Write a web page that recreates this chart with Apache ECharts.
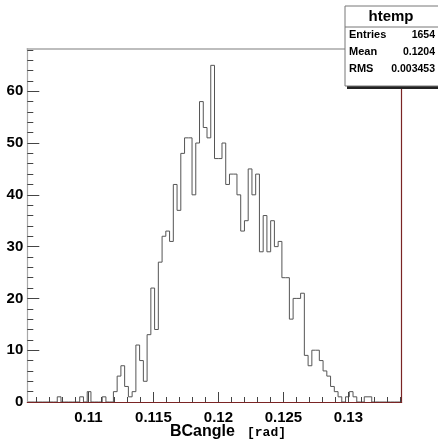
<!DOCTYPE html>
<html>
<head>
<meta charset="utf-8">
<script src="https://cdn.jsdelivr.net/npm/echarts@6/dist/echarts.min.js"></script>
<style>
  html, body { margin: 0; padding: 0; background: #fff; }
  #chart { width: 438px; height: 443px; }
</style>
</head>
<body>
<div id="chart"></div>
<script>
// Histogram of BCangle: 100 equal bins between binLow and binHigh
const binLow = 0.1053;
const binHigh = 0.1341;
const counts = [
  0, 0, 0, 0, 0, 0, 0, 0, 1, 0,
  0, 0, 0, 0, 1, 0, 2, 0, 0, 0,
  1, 0, 0, 2, 5, 7, 3, 1, 2, 11,
  8, 4, 13, 22, 14, 27, 32, 33, 31, 42,
  37, 48, 51, 51, 40, 50, 58, 53, 51, 65,
  47, 47, 50, 42, 44, 44, 40, 33, 35, 45,
  40, 44, 29, 36, 29, 35, 30, 31, 24, 24,
  16, 20, 20, 21, 9, 7, 10, 10, 8, 6,
  5, 3, 2, 1, 0, 1, 2, 1, 0, 0,
  1, 1, 0, 0, 0, 0, 0, 0, 0, 0
];

// Axis ticks
const xMajorTicks = [0.11, 0.115, 0.12, 0.125, 0.13];
const xMinorTicks = [0.106, 0.107, 0.108, 0.109, 0.111, 0.112, 0.113, 0.114,
  0.116, 0.117, 0.118, 0.119, 0.121, 0.122, 0.123, 0.124,
  0.126, 0.127, 0.128, 0.129, 0.131, 0.132, 0.133, 0.134];
const yMajorTicks = [0, 10, 20, 30, 40, 50, 60];
const yMinorTicks = [2, 4, 6, 8, 12, 14, 16, 18, 22, 24, 26, 28, 32, 34, 36, 38,
  42, 44, 46, 48, 52, 54, 56, 58, 62, 64, 66, 68];

// Statistics box contents
const statsTitle = 'htemp';
const statsLabels = ['Entries', 'Mean', 'RMS'];
const statsValues = ['1654', '0.1204', '0.003453'];

const yMax = Math.max(...counts) * 1.05;

// Step outline points: left edge of each bin, then closing right edge
const binWidth = (binHigh - binLow) / counts.length;
const outline = counts.map((c, i) => [binLow + i * binWidth, c]);
outline.push([binHigh, counts[counts.length - 1]]);

const FONT = '"Liberation Sans", Arial, Helvetica, sans-serif';
const frameRed = '#7a2424';
const frameGray = '#a8a8a8';
const tickColor = '#444';

const gridBox = { left: 27.3, right: 36.3, top: 48.5, bottom: 41, containLabel: false };

const chart = echarts.init(document.getElementById('chart'), null, { renderer: 'canvas' });

const statsX = 345, statsY = 6, statsW = 100, statsH = 80;
const Z = 100;

chart.setOption({
  animation: false,
  backgroundColor: '#fff',
  // grid 0 holds the frame and major ticks, grid 1 the minor ticks
  grid: [Object.assign({}, gridBox), Object.assign({}, gridBox)],
  xAxis: [
    {
      gridIndex: 0, type: 'value', position: 'bottom', min: binLow, max: binHigh, z: 5,
      axisLine: { show: true, onZero: false, lineStyle: { color: frameRed, width: 1.2 } },
      axisTick: { show: true, inside: true, length: 10, customValues: xMajorTicks,
        lineStyle: { color: tickColor, width: 1 } },
      axisLabel: { show: true, customValues: xMajorTicks, margin: 8,
        fontFamily: FONT, fontWeight: 'bold', fontSize: 15, color: '#000',
        formatter: v => String(+v.toFixed(4)) },
      splitLine: { show: false }
    },
    {
      gridIndex: 0, type: 'value', position: 'top', min: binLow, max: binHigh,
      axisLine: { show: true, onZero: false, lineStyle: { color: frameGray, width: 1.5 } },
      axisTick: { show: false }, axisLabel: { show: false }, splitLine: { show: false }
    },
    {
      gridIndex: 1, type: 'value', position: 'bottom', min: binLow, max: binHigh, z: 4,
      axisLine: { show: false, onZero: false },
      axisTick: { show: true, inside: true, length: 5, customValues: xMinorTicks,
        lineStyle: { color: tickColor, width: 1 } },
      axisLabel: { show: false },
      splitLine: { show: false }
    }
  ],
  yAxis: [
    {
      gridIndex: 0, type: 'value', position: 'left', min: 0, max: yMax, z: 4,
      axisLine: { show: true, onZero: false, lineStyle: { color: frameGray, width: 1.2 } },
      axisTick: { show: true, inside: true, length: 12, customValues: yMajorTicks,
        lineStyle: { color: tickColor, width: 1 } },
      axisLabel: { show: true, customValues: yMajorTicks, margin: 4,
        fontFamily: FONT, fontWeight: 'bold', fontSize: 15, color: '#000' },
      splitLine: { show: false }
    },
    {
      gridIndex: 0, type: 'value', position: 'right', min: 0, max: yMax,
      axisLine: { show: true, onZero: false, lineStyle: { color: frameRed, width: 1.2 } },
      axisTick: { show: false }, axisLabel: { show: false }, splitLine: { show: false }
    },
    {
      gridIndex: 1, type: 'value', position: 'left', min: 0, max: yMax, z: 4,
      axisLine: { show: false, onZero: false },
      axisTick: { show: true, inside: true, length: 6, customValues: yMinorTicks,
        lineStyle: { color: tickColor, width: 1 } },
      axisLabel: { show: false },
      splitLine: { show: false }
    }
  ],
  series: [{
    type: 'line',
    xAxisIndex: 0,
    yAxisIndex: 0,
    step: 'end',
    data: outline,
    showSymbol: false,
    symbol: 'none',
    lineStyle: { color: '#555', width: 1 },
    z: 2
  }],
  graphic: [
    // axis title
    {
      type: 'text', left: 170, top: 424, z: Z,
      style: { text: 'BCangle', font: 'bold 16px ' + FONT, fill: '#000' }
    },
    {
      type: 'text', left: 247, top: 426, z: Z,
      style: { text: '[rad]', font: 'bold 13px "Liberation Mono", "DejaVu Sans Mono", monospace', fill: '#000' }
    },
    // statistics box
    { type: 'rect', z: Z, shape: { x: statsX + 2, y: statsY + 3, width: statsW, height: statsH },
      style: { fill: '#222' } },
    { type: 'rect', z: Z + 1, shape: { x: statsX, y: statsY, width: statsW, height: statsH },
      style: { fill: '#fff', stroke: '#777', lineWidth: 1 } },
    { type: 'line', z: Z + 2, shape: { x1: statsX, y1: statsY + 21, x2: statsX + statsW, y2: statsY + 21 },
      style: { stroke: '#777', lineWidth: 1 } },
    { type: 'text', z: Z + 2, x: 391, y: statsY + 11,
      style: { text: statsTitle, font: 'bold 15px ' + FONT, fill: '#000',
        align: 'center', verticalAlign: 'middle' } },
    ...statsLabels.map((lab, i) => ({
      type: 'text', z: Z + 2, x: statsX + 4, y: 35 + i * 17,
      style: { text: lab, font: 'bold 11px ' + FONT, fill: '#000',
        align: 'left', verticalAlign: 'middle' }
    })),
    ...statsValues.map((val, i) => ({
      type: 'text', z: Z + 2, x: 435, y: 35 + i * 17,
      style: { text: val, font: 'bold 10.5px ' + FONT, fill: '#000',
        align: 'right', verticalAlign: 'middle' }
    }))
  ]
});
</script>
</body>
</html>
